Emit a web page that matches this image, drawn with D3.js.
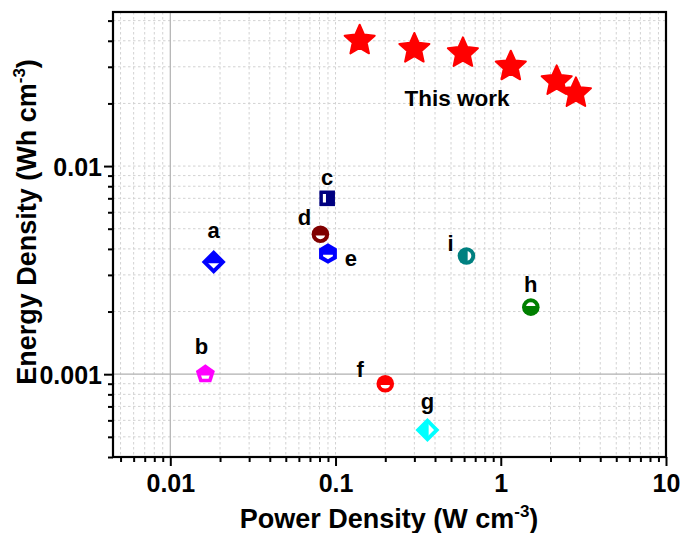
<!DOCTYPE html>
<html>
<head>
<meta charset="utf-8">
<script src="https://cdn.jsdelivr.net/npm/d3@7"></script>
<style>
  html, body { margin: 0; padding: 0; background: #fff; }
  svg { display: block; }
  text { font-family: Arial, "Liberation Sans", sans-serif; font-weight: bold; }
</style>
</head>
<body>
<svg id="chart" width="681" height="533"></svg>
<script>
// Reference devices from the literature (labels a–i)
const refLabels = ["a", "b", "c", "d", "e", "f", "g", "h", "i"];
const refPower  = [0.0183, 0.0163, 0.089, 0.081, 0.090, 0.20, 0.36, 1.52, 0.62];
const refEnergy = [0.00346, 0.00100, 0.0070, 0.0047, 0.0038, 0.00090, 0.00054, 0.0021, 0.0037];
const refShapes = ["diamond", "pentagon", "square", "circle", "hexagon", "circle", "diamond", "circle", "circle"];
const refColors = ["#0000ff", "#ff00ff", "#000080", "#800000", "#0000ff", "#ff0000", "#00ffff", "#008000", "#008080"];
const refHalf   = ["down", "down", "left", "down", "down", "down", "right", "up", "right"];

// Devices from this work
const workPower  = [0.14, 0.30, 0.59, 1.15, 2.18, 2.85];
const workEnergy = [0.0401, 0.0366, 0.0349, 0.0301, 0.0256, 0.0224];
const workLabel = "This work";

// Axis ticks
const xMajor = [0.01, 0.1, 1, 10];
const xMajorLabels = ["0.01", "0.1", "1", "10"];
const yMajor = [0.001, 0.01];
const yMajorLabels = ["0.001", "0.01"];
const xDomain = [0.0045, 10];
const yDomain = [0.0004, 0.055];

const svg = d3.select("#chart");
const plot = { left: 113, right: 666, top: 12, bottom: 457 };

const x = d3.scaleLog().domain(xDomain).range([plot.left, plot.right]);
const y = d3.scaleLog().domain(yDomain).range([plot.bottom, plot.top]);

// minor tick positions inside the domain
function minorsOf(domain, majors) {
  const out = [];
  const lo = Math.floor(Math.log10(domain[0])), hi = Math.ceil(Math.log10(domain[1]));
  for (let e = lo; e <= hi; e++) {
    for (let m = 1; m <= 9; m++) {
      const v = m * Math.pow(10, e);
      if (v >= domain[0] * 0.999 && v <= domain[1] * 1.001 && !majors.some(t => Math.abs(t - v) / v < 1e-6)) out.push(v);
    }
  }
  return out;
}
const xMinor = minorsOf(xDomain, xMajor);
const yMinor = minorsOf(yDomain, yMajor);

// grid
const grid = svg.append("g");
grid.selectAll("line.gx").data(xMinor.concat(xMajor.filter(v => v !== 0.01 && v < 10))).enter().append("line")
  .attr("x1", d => x(d)).attr("x2", d => x(d)).attr("y1", plot.top).attr("y2", plot.bottom)
  .attr("stroke", "#d2d2d2").attr("stroke-width", 1).attr("stroke-dasharray", "2.5,2.5");
grid.selectAll("line.gy").data(yMinor.concat([0.01])).enter().append("line")
  .attr("y1", d => y(d)).attr("y2", d => y(d)).attr("x1", plot.left).attr("x2", plot.right)
  .attr("stroke", "#d2d2d2").attr("stroke-width", 1).attr("stroke-dasharray", "2.5,2.5");
grid.append("line").attr("x1", x(0.01)).attr("x2", x(0.01)).attr("y1", plot.top).attr("y2", plot.bottom)
  .attr("stroke", "#b0b0b0").attr("stroke-width", 1.2);
grid.append("line").attr("y1", y(0.001)).attr("y2", y(0.001)).attr("x1", plot.left).attr("x2", plot.right)
  .attr("stroke", "#b0b0b0").attr("stroke-width", 1.2);

// axes
const fmtX = d => xMajorLabels[xMajor.indexOf(d)];
const fmtY = d => yMajorLabels[yMajor.indexOf(d)];

const gxMinor = svg.append("g").attr("transform", `translate(0,${plot.bottom})`)
  .call(d3.axisBottom(x).tickValues(xMinor).tickSize(5).tickFormat(""));
const gxMajor = svg.append("g").attr("transform", `translate(0,${plot.bottom})`)
  .call(d3.axisBottom(x).tickValues(xMajor).tickSize(9).tickPadding(8).tickFormat(fmtX));
const gyMinor = svg.append("g").attr("transform", `translate(${plot.left},0)`)
  .call(d3.axisLeft(y).tickValues(yMinor).tickSize(5).tickFormat(""));
const gyMajor = svg.append("g").attr("transform", `translate(${plot.left},0)`)
  .call(d3.axisLeft(y).tickValues(yMajor).tickSize(9).tickPadding(2).tickFormat(fmtY));

[gxMinor, gxMajor, gyMinor, gyMajor].forEach(g => {
  g.select(".domain").remove();
  g.selectAll(".tick line").attr("stroke", "#000").attr("stroke-width", 2);
  g.selectAll(".tick text").attr("fill", "#000").style("font-size", "25px")
    .style("font-family", "Arial, 'Liberation Sans', sans-serif").style("font-weight", "bold");
});
gyMajor.selectAll(".tick text").attr("dy", "0.36em");

// frame
svg.append("rect").attr("x", plot.left).attr("y", plot.top)
  .attr("width", plot.right - plot.left).attr("height", plot.bottom - plot.top)
  .attr("fill", "none").attr("stroke", "#000").attr("stroke-width", 2.2);

// marker shapes
function polygon(n, r, rot) {
  const pts = d3.range(n).map(i => {
    const a = rot + i * 2 * Math.PI / n;
    return [r * Math.sin(a), -r * Math.cos(a)];
  });
  return "M" + pts.map(p => p.join(",")).join("L") + "Z";
}
function shapePath(type, r) {
  switch (type) {
    case "circle": return `M${-r},0A${r},${r} 0 1,0 ${r},0A${r},${r} 0 1,0 ${-r},0Z`;
    case "diamond": return polygon(4, r, 0);
    case "square": return polygon(4, r * Math.SQRT2, Math.PI / 4);
    case "pentagon": return polygon(5, r, 0);
    case "hexagon": return polygon(6, r, 0);
  }
}
const shapeSize = { circle: 8.8, diamond: 12, square: 7.8, pentagon: 10, hexagon: 10.3 };
const halfClip = {
  down:  [-20, 1.2, 40, 20],
  up:    [-20, -21.2, 40, 20],
  left:  [-21.2, -20, 20, 40],
  right: [1.2, -20, 20, 40]
};

const defs = svg.append("defs");
Object.keys(halfClip).forEach(k => {
  const c = halfClip[k];
  defs.append("clipPath").attr("id", "half-" + k)
    .append("rect").attr("x", c[0]).attr("y", c[1]).attr("width", c[2]).attr("height", c[3]);
});

const refData = refLabels.map((l, i) => ({
  label: l, px: refPower[i], ey: refEnergy[i], shape: refShapes[i], color: refColors[i], half: refHalf[i]
}));

const marks = svg.append("g").selectAll("g").data(refData).enter().append("g")
  .attr("transform", d => `translate(${x(d.px)},${y(d.ey)})`);
marks.append("path").attr("d", d => shapePath(d.shape, shapeSize[d.shape])).attr("fill", d => d.color);
marks.append("path").attr("d", d => shapePath(d.shape, shapeSize[d.shape] * 0.55))
  .attr("fill", "#fff").attr("clip-path", d => `url(#half-${d.half})`);

// label offsets (dx, dy to baseline) around each marker
const labelOffset = {
  a: [0, -24], b: [-4, -20], c: [0, -13], d: [-16, -9], e: [23, 12],
  f: [-25, -7], g: [0, -21], h: [0, -15], i: [-16, -5]
};
svg.append("g").selectAll("text").data(refData).enter().append("text")
  .attr("x", d => x(d.px) + labelOffset[d.label][0])
  .attr("y", d => y(d.ey) + labelOffset[d.label][1])
  .attr("text-anchor", "middle").style("font-size", "22px").attr("fill", "#000")
  .text(d => d.label);

// stars for this work
function starPath(R, ratio) {
  const pts = d3.range(10).map(i => {
    const r = i % 2 === 0 ? R : R * ratio;
    const a = i * Math.PI / 5;
    return [r * Math.sin(a), -r * Math.cos(a)];
  });
  return "M" + pts.map(p => p.join(",")).join("L") + "Z";
}
svg.append("g").selectAll("path").data(workPower.map((p, i) => [p, workEnergy[i]])).enter().append("path")
  .attr("transform", d => `translate(${x(d[0])},${y(d[1])})`)
  .attr("d", starPath(15.8, 0.47))
  .attr("fill", "#ff0000").attr("stroke", "#ff0000").attr("stroke-width", 2).attr("stroke-linejoin", "round");

svg.append("text").attr("x", 457).attr("y", 106).attr("text-anchor", "middle")
  .style("font-size", "22.5px").attr("fill", "#000").text(workLabel);

// axis titles
const xt = svg.append("text").attr("x", 389).attr("y", 528).attr("text-anchor", "middle")
  .style("font-size", "27px").attr("fill", "#000");
xt.append("tspan").text("Power Density (W cm");
xt.append("tspan").attr("dy", -11).style("font-size", "17px").text("-3");
xt.append("tspan").attr("dy", 11).text(")");

const yt = svg.append("text").attr("transform", "translate(36,222) rotate(-90)").attr("text-anchor", "middle")
  .style("font-size", "27px").attr("fill", "#000");
yt.append("tspan").text("Energy Density (Wh cm");
yt.append("tspan").attr("dy", -11).style("font-size", "17px").text("-3");
yt.append("tspan").attr("dy", 11).text(")");
</script>
</body>
</html>
